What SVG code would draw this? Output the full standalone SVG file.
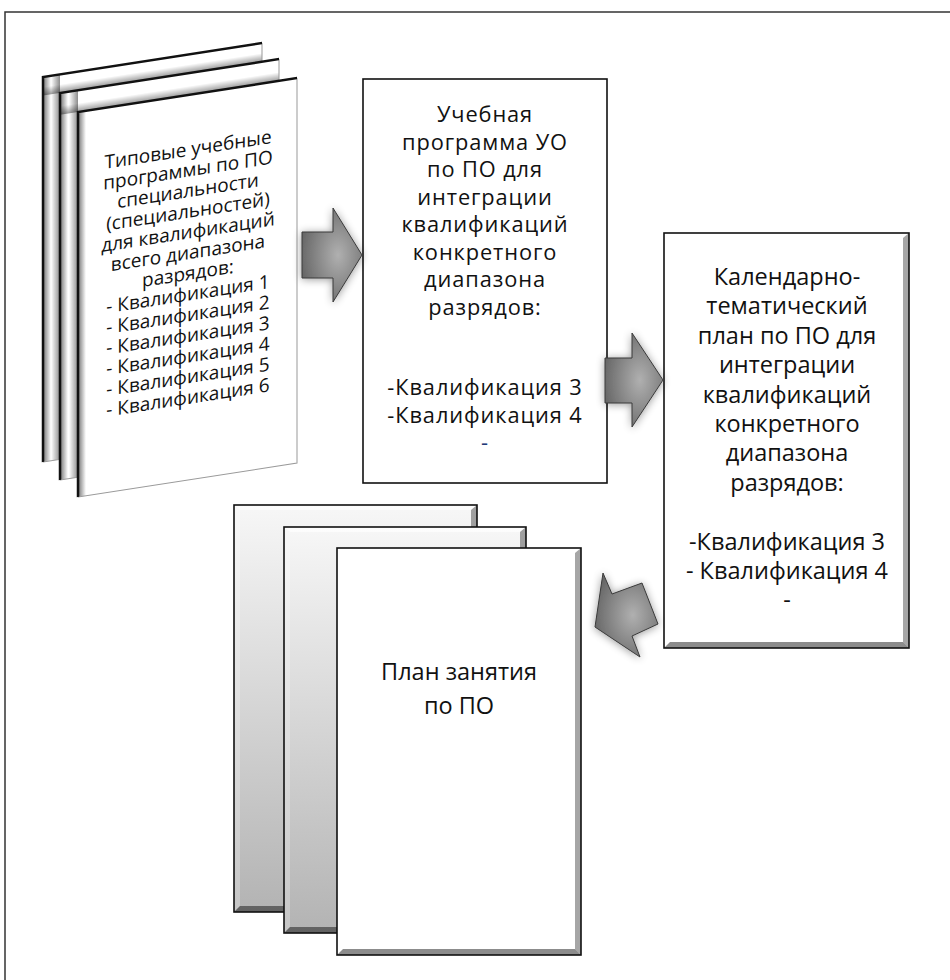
<svg xmlns="http://www.w3.org/2000/svg" width="950" height="980" viewBox="0 0 950 980">
  <defs>
    <style>
      .t { font-family: "Open Sans", "Noto Sans", "DejaVu Sans", sans-serif; fill: #111; text-anchor: middle; }
      .big { font-size: 23.5px; }
      .mid { font-size: 21.8px; letter-spacing: 0.9px; }
      .small { font-size: 19px; }
      .edge-dark { fill: none; stroke: #111; stroke-width: 2.5; stroke-linejoin: miter; }
      .edge-light { fill: none; stroke: #9a9a9a; stroke-width: 1; }
      .frame { fill: none; stroke: #333; stroke-width: 1.5; }
      .box { fill: #fff; stroke: #111; stroke-width: 1.6; }
      .bevel-top { fill: #fff; opacity: 0.7; }
      .bevel-left { fill: #fff; opacity: 0.25; }
      .bevel-right { fill: #000; opacity: 0.35; }
      .bevel-bottom { fill: #000; opacity: 0.45; }
      .outline { fill: none; stroke: #111; stroke-width: 1.6; }
      .arrow { fill: url(#arrowFill); stroke: #3a3a3a; stroke-width: 1; filter: url(#glow); }
    </style>
    <radialGradient id="arrowFill" cx="0.6" cy="0.5" r="0.7">
      <stop offset="0" stop-color="#b0b0b0"/>
      <stop offset="1" stop-color="#5e5e5e"/>
    </radialGradient>
    <linearGradient id="sheetFace" x1="0" y1="0" x2="0" y2="1">
      <stop offset="0" stop-color="#f7f7f7"/>
      <stop offset="1" stop-color="#b3b3b3"/>
    </linearGradient>
    <!-- dark fade just inside a page's left edge -->
    <linearGradient id="pageEdge" x1="0" y1="0" x2="1" y2="0">
      <stop offset="0" stop-color="#000" stop-opacity="0.55"/>
      <stop offset="1" stop-color="#000" stop-opacity="0"/>
    </linearGradient>
    <!-- shadow cast by the next page, horizontal and vertical -->
    <linearGradient id="castX" x1="0" y1="0" x2="1" y2="0">
      <stop offset="0" stop-color="#000" stop-opacity="0"/>
      <stop offset="1" stop-color="#000" stop-opacity="0.45"/>
    </linearGradient>
    <linearGradient id="castY" x1="0" y1="0" x2="0" y2="1">
      <stop offset="0" stop-color="#000" stop-opacity="0"/>
      <stop offset="1" stop-color="#000" stop-opacity="0.4"/>
    </linearGradient>
    <filter id="glow" x="-30%" y="-30%" width="160%" height="160%">
      <feGaussianBlur in="SourceAlpha" stdDeviation="4"/>
      <feOffset dx="0" dy="1" result="b"/>
      <feComponentTransfer><feFuncA type="linear" slope="0.4"/></feComponentTransfer>
      <feMerge><feMergeNode/><feMergeNode in="SourceGraphic"/></feMerge>
    </filter>
  </defs>

  <!-- outer frame, open past the right and bottom edges -->
  <path class="frame" d="M5,990 V12 H960"/>

  <!-- stack of skewed programme sheets -->
  <g id="node-typical-programs">
    <g transform="translate(43,77) skewY(-8.8)">
      <rect x="0" y="0" width="219" height="385" fill="#fff"/>
      <rect x="0" y="0" width="8" height="385" fill="url(#pageEdge)"/>
      <rect x="8" y="0" width="9" height="385" fill="url(#castX)"/>
      <rect x="0" y="10" width="219" height="8.6" fill="url(#castY)"/>
      <polyline class="edge-light" points="219,0 219,385 0,385"/>
      <polyline class="edge-dark" points="0,385 0,0 219,0"/>
    </g>
    <g transform="translate(60,93) skewY(-8.8)">
      <rect x="0" y="0" width="219" height="387" fill="#fff"/>
      <rect x="0" y="0" width="8" height="387" fill="url(#pageEdge)"/>
      <rect x="9" y="0" width="9" height="387" fill="url(#castX)"/>
      <rect x="0" y="13" width="219" height="8.8" fill="url(#castY)"/>
      <polyline class="edge-light" points="219,0 219,387 0,387"/>
      <polyline class="edge-dark" points="0,387 0,0 219,0"/>
    </g>
    <g transform="translate(78,112) skewY(-8.8)">
      <rect x="0" y="0" width="219" height="385" fill="#fff"/>
      <rect x="0" y="0" width="8" height="385" fill="url(#pageEdge)"/>
      <polyline class="edge-light" points="219,0 219,385 0,385"/>
      <polyline class="edge-dark" points="0,385 0,0 219,0"/>
      <g class="t small">
        <text x="110" y="61">Типовые учебные</text>
        <text x="110" y="81.7">программы по ПО</text>
        <text x="110" y="102.3">специальности</text>
        <text x="110" y="123">(специальностей)</text>
        <text x="110" y="143.7">для квалификаций</text>
        <text x="110" y="164.3">всего диапазона</text>
        <text x="110" y="185">разрядов:</text>
        <text x="110" y="205.7">- Квалификация 1</text>
        <text x="110" y="226.3">- Квалификация 2</text>
        <text x="110" y="247">- Квалификация 3</text>
        <text x="110" y="267.7">- Квалификация 4</text>
        <text x="110" y="288.3">- Квалификация 5</text>
        <text x="110" y="309">- Квалификация 6</text>
      </g>
    </g>
  </g>

  <!-- institution programme -->
  <g id="node-institution-program">
    <rect class="box" x="363" y="79" width="244" height="404"/>
    <g class="t mid">
      <text x="485" y="122">Учебная</text>
      <text x="485" y="149.5">программа УО</text>
      <text x="485" y="177">по ПО для</text>
      <text x="485" y="204.5">интеграции</text>
      <text x="485" y="232">квалификаций</text>
      <text x="485" y="259.5">конкретного</text>
      <text x="485" y="287">диапазона</text>
      <text x="485" y="314.5">разрядов:</text>
      <text x="485" y="395">-Квалификация 3</text>
      <text x="485" y="422.5">-Квалификация 4</text>
      <text x="485" y="450" fill="#1f3a78">-</text>
    </g>
  </g>

  <!-- calendar-thematic plan (bevelled) -->
  <g id="node-calendar-plan">
    <rect x="664" y="233" width="245" height="415" fill="#fff"/>
    <polygon class="bevel-top" points="664,233 909,233 903,238 670,238"/>
    <polygon class="bevel-left" points="664,233 670,238 670,642 664,648"/>
    <polygon class="bevel-right" points="909,233 909,648 903,642 903,238"/>
    <polygon class="bevel-bottom" points="664,648 909,648 903,642 670,642"/>
    <rect class="outline" x="664" y="233" width="245" height="415"/>
    <g class="t big">
      <text x="787" y="285">Календарно-</text>
      <text x="787" y="314.4">тематический</text>
      <text x="787" y="343.8">план по ПО для</text>
      <text x="787" y="373.2">интеграции</text>
      <text x="787" y="402.6">квалификаций</text>
      <text x="787" y="432">конкретного</text>
      <text x="787" y="461.4">диапазона</text>
      <text x="787" y="490.8">разрядов:</text>
      <text x="787" y="549.6">-Квалификация 3</text>
      <text x="787" y="579">- Квалификация 4</text>
      <text x="787" y="608.4">-</text>
    </g>
  </g>

  <!-- stack of lesson-plan sheets (bevelled) -->
  <g id="node-lesson-plan">
    <g>
      <rect x="234" y="505" width="243" height="407" fill="url(#sheetFace)"/>
      <polygon class="bevel-top" points="234,505 477,505 471,510 240,510"/>
      <polygon class="bevel-left" points="234,505 240,510 240,906 234,912"/>
      <polygon class="bevel-right" points="477,505 477,912 471,906 471,510"/>
      <polygon class="bevel-bottom" points="234,912 477,912 471,906 240,906"/>
      <rect class="outline" x="234" y="505" width="243" height="407"/>
    </g>
    <g>
      <rect x="284" y="527" width="242" height="406" fill="url(#sheetFace)"/>
      <polygon class="bevel-top" points="284,527 526,527 520,532 290,532"/>
      <polygon class="bevel-left" points="284,527 290,532 290,927 284,933"/>
      <polygon class="bevel-right" points="526,527 526,933 520,927 520,532"/>
      <polygon class="bevel-bottom" points="284,933 526,933 520,927 290,927"/>
      <rect class="outline" x="284" y="527" width="242" height="406"/>
    </g>
    <g>
      <rect x="337" y="548" width="244" height="407" fill="#fff"/>
      <polygon class="bevel-top" points="337,548 581,548 575,553 343,553"/>
      <polygon class="bevel-left" points="337,548 343,553 343,949 337,955"/>
      <polygon class="bevel-right" points="581,548 581,955 575,949 575,553"/>
      <polygon class="bevel-bottom" points="337,955 581,955 575,949 343,949"/>
      <rect class="outline" x="337" y="548" width="244" height="407"/>
      <g class="t big">
        <text x="459" y="680">План занятия</text>
        <text x="459" y="714">по ПО</text>
      </g>
    </g>
  </g>

  <!-- block arrows between the stages -->
  <g id="connectors">
    <polygon class="arrow" points="302,232 333,232 333,208 362,255 333,302 333,278 302,278"/>
    <polygon class="arrow" points="605,358 632,358 632,333 663,380 632,427 632,403 605,403"/>
    <polygon class="arrow" points="595,627 603,573 612,594 642,583 658,624 632,636 640,657"/>
  </g>
</svg>
